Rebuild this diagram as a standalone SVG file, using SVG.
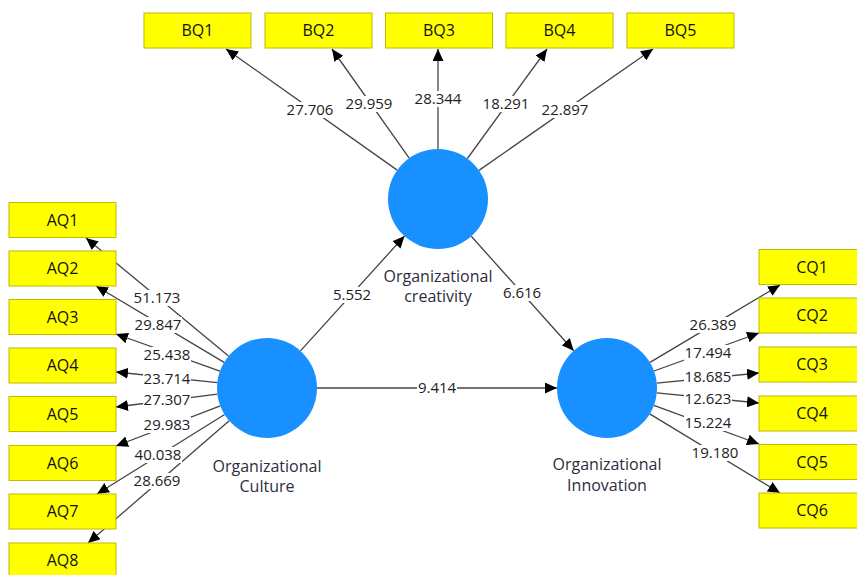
<svg xmlns="http://www.w3.org/2000/svg" width="857" height="575" viewBox="0 0 857 575">
<defs>
<marker id="ah" markerUnits="userSpaceOnUse" markerWidth="13" markerHeight="11" refX="12" refY="5.5" orient="auto">
<path d="M0,0 L12,5.5 L0,11 z" fill="#000"/>
</marker>
<style>
.cn line{stroke:#444;stroke-width:1.3;marker-end:url(#ah)}
.bx{fill:#ffff00;stroke:#bcbc00;stroke-width:1}
.bt{font-family:"Open Sans","Noto Sans",sans-serif;font-size:16px;fill:#111;text-anchor:middle}
.lv{fill:#1890ff}
.lt{font-family:"Open Sans","Noto Sans",sans-serif;font-size:16px;fill:#2d2d3d;text-anchor:middle}
.nb{fill:#fff}
.nt{font-family:"Open Sans","Noto Sans",sans-serif;font-size:15px;fill:#222;text-anchor:middle}
</style>
</defs>
<rect width="857" height="575" fill="#fff"/>
<g id="connectors" class="cn">
<line x1="228.5" y1="356.1" x2="86" y2="238"/>
<line x1="224.1" y1="362.4" x2="96" y2="286"/>
<line x1="219.9" y1="371.2" x2="116" y2="334"/>
<line x1="217.3" y1="382.7" x2="116" y2="372"/>
<line x1="217.4" y1="394.2" x2="116" y2="407"/>
<line x1="220.3" y1="405.9" x2="116" y2="446"/>
<line x1="224.6" y1="414.5" x2="97" y2="494"/>
<line x1="229.2" y1="420.7" x2="88" y2="543"/>
<line x1="650" y1="362.4" x2="780" y2="285"/>
<line x1="654" y1="371" x2="759" y2="333"/>
<line x1="656.8" y1="383.1" x2="759" y2="373"/>
<line x1="656.8" y1="392.9" x2="759" y2="403"/>
<line x1="653.9" y1="405.3" x2="759" y2="444"/>
<line x1="649.7" y1="413.9" x2="780" y2="493"/>
<line x1="397.2" y1="170.1" x2="226" y2="49"/>
<line x1="409.2" y1="158.2" x2="332" y2="49"/>
<line x1="438" y1="149" x2="438" y2="49"/>
<line x1="467.4" y1="158.5" x2="547" y2="49"/>
<line x1="479" y1="170.4" x2="653" y2="49"/>
<line x1="300.5" y1="350.9" x2="404.5" y2="236"/>
<line x1="471.3" y1="236.3" x2="573.7" y2="350.7"/>
<line x1="317" y1="388" x2="557" y2="388"/>
</g>
<g id="labels">
<rect class="nb" x="133" y="290" width="48" height="16"/><text class="nt" x="157" y="303.3">51.173</text>
<rect class="nb" x="134" y="317" width="48" height="16"/><text class="nt" x="158" y="330.3">29.847</text>
<rect class="nb" x="143" y="347" width="48" height="16"/><text class="nt" x="167" y="360.3">25.438</text>
<rect class="nb" x="143" y="371" width="48" height="16"/><text class="nt" x="167" y="384.3">23.714</text>
<rect class="nb" x="143" y="392" width="48" height="16"/><text class="nt" x="167" y="405.3">27.307</text>
<rect class="nb" x="143" y="417" width="48" height="16"/><text class="nt" x="167" y="430.3">29.983</text>
<rect class="nb" x="134" y="447" width="48" height="16"/><text class="nt" x="158" y="460.3">40.038</text>
<rect class="nb" x="133" y="473" width="48" height="16"/><text class="nt" x="157" y="486.3">28.669</text>
<rect class="nb" x="689" y="317" width="48" height="16"/><text class="nt" x="713" y="330.3">26.389</text>
<rect class="nb" x="684" y="345" width="48" height="16"/><text class="nt" x="708" y="358.3">17.494</text>
<rect class="nb" x="684" y="369" width="48" height="16"/><text class="nt" x="708" y="382.3">18.685</text>
<rect class="nb" x="684" y="391" width="48" height="16"/><text class="nt" x="708" y="404.3">12.623</text>
<rect class="nb" x="684" y="415" width="48" height="16"/><text class="nt" x="708" y="428.3">15.224</text>
<rect class="nb" x="691" y="445" width="48" height="16"/><text class="nt" x="715" y="458.3">19.180</text>
<rect class="nb" x="286" y="102" width="48" height="16"/><text class="nt" x="310" y="115.3">27.706</text>
<rect class="nb" x="345" y="96" width="48" height="16"/><text class="nt" x="369" y="109.3">29.959</text>
<rect class="nb" x="414" y="91" width="48" height="16"/><text class="nt" x="438" y="104.3">28.344</text>
<rect class="nb" x="482" y="96" width="48" height="16"/><text class="nt" x="506" y="109.3">18.291</text>
<rect class="nb" x="541" y="102" width="48" height="16"/><text class="nt" x="565" y="115.3">22.897</text>
<rect class="nb" x="332" y="287" width="40" height="16"/><text class="nt" x="352" y="300.3">5.552</text>
<rect class="nb" x="502" y="285" width="40" height="16"/><text class="nt" x="522" y="298.3">6.616</text>
<rect class="nb" x="417" y="380" width="40" height="16"/><text class="nt" x="437" y="393.3">9.414</text>
</g>
<g id="OC"><circle class="lv" cx="267" cy="388" r="50"/><text class="lt" x="267" y="472">Organizational</text><text class="lt" x="267" y="492">Culture</text></g>
<g id="OCr"><circle class="lv" cx="438" cy="199" r="50"/><text class="lt" x="438" y="282">Organizational</text><text class="lt" x="438" y="302">creativity</text></g>
<g id="OI"><circle class="lv" cx="607" cy="388" r="50"/><text class="lt" x="607" y="470">Organizational</text><text class="lt" x="607" y="491">Innovation</text></g>
<g id="AQ1"><rect class="bx" x="9" y="202.5" width="107" height="35"/><text class="bt" x="62.5" y="225.7">AQ1</text></g>
<g id="AQ2"><rect class="bx" x="9" y="251" width="107" height="35"/><text class="bt" x="62.5" y="274.2">AQ2</text></g>
<g id="AQ3"><rect class="bx" x="9" y="299.5" width="107" height="35"/><text class="bt" x="62.5" y="322.7">AQ3</text></g>
<g id="AQ4"><rect class="bx" x="9" y="348" width="107" height="35"/><text class="bt" x="62.5" y="371.2">AQ4</text></g>
<g id="AQ5"><rect class="bx" x="9" y="396.5" width="107" height="35"/><text class="bt" x="62.5" y="419.7">AQ5</text></g>
<g id="AQ6"><rect class="bx" x="9" y="445.5" width="107" height="35"/><text class="bt" x="62.5" y="468.7">AQ6</text></g>
<g id="AQ7"><rect class="bx" x="9" y="494" width="107" height="35"/><text class="bt" x="62.5" y="517.2">AQ7</text></g>
<g id="AQ8"><rect class="bx" x="9" y="543" width="107" height="35"/><text class="bt" x="62.5" y="566.2">AQ8</text></g>
<g id="CQ1"><rect class="bx" x="759" y="249.5" width="107" height="35"/><text class="bt" x="812" y="272.7">CQ1</text></g>
<g id="CQ2"><rect class="bx" x="759" y="298" width="107" height="35"/><text class="bt" x="812" y="321.2">CQ2</text></g>
<g id="CQ3"><rect class="bx" x="759" y="347" width="107" height="35"/><text class="bt" x="812" y="370.2">CQ3</text></g>
<g id="CQ4"><rect class="bx" x="759" y="396" width="107" height="35"/><text class="bt" x="812" y="419.2">CQ4</text></g>
<g id="CQ5"><rect class="bx" x="759" y="444.5" width="107" height="35"/><text class="bt" x="812" y="467.7">CQ5</text></g>
<g id="CQ6"><rect class="bx" x="759" y="493" width="107" height="35"/><text class="bt" x="812" y="516.2">CQ6</text></g>
<g id="BQ1"><rect class="bx" x="144" y="13" width="107" height="35"/><text class="bt" x="197.5" y="36.2">BQ1</text></g>
<g id="BQ2"><rect class="bx" x="265" y="13" width="107" height="35"/><text class="bt" x="318.5" y="36.2">BQ2</text></g>
<g id="BQ3"><rect class="bx" x="385.5" y="13" width="107" height="35"/><text class="bt" x="439" y="36.2">BQ3</text></g>
<g id="BQ4"><rect class="bx" x="506" y="13" width="107" height="35"/><text class="bt" x="559.5" y="36.2">BQ4</text></g>
<g id="BQ5"><rect class="bx" x="627" y="13" width="107" height="35"/><text class="bt" x="680.5" y="36.2">BQ5</text></g>
</svg>
